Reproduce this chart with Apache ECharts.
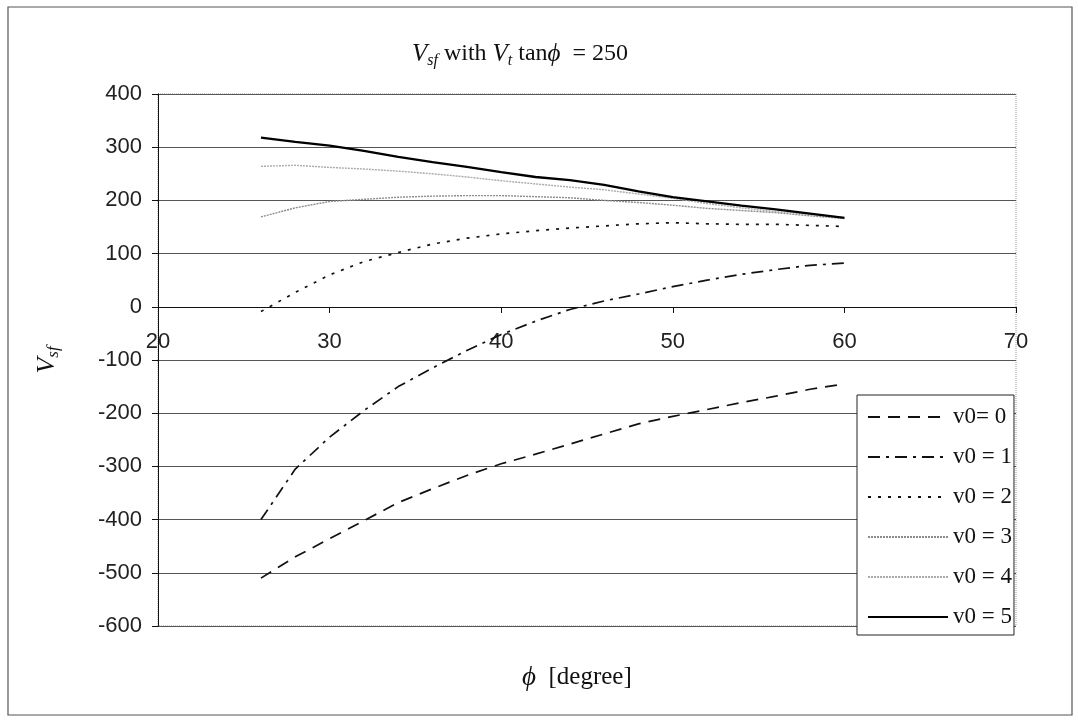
<!DOCTYPE html>
<html>
<head>
<meta charset="utf-8">
<script src="https://cdn.jsdelivr.net/npm/echarts@6/dist/echarts.min.js"></script>
<style>
  html, body { margin: 0; padding: 0; background: #fff; }
  #vsf { width: 1078px; height: 722px; }
</style>
</head>
<body>
<div id="vsf"></div>
<script>
// phi [degree]
var phi = [26, 28, 30, 32, 34, 36, 38, 40, 42, 44, 46, 48, 50, 52, 54, 56, 58, 60];

// Vsf for each v0
var v0_0 = [-510, -470, -436, -402, -368, -342, -317, -295, -277, -258, -239, -220, -206, -193, -180, -168, -155, -145];
var v0_1 = [-400, -305, -245, -195, -150, -115, -82, -52, -27, -5, 11, 24, 38, 50, 61, 70, 78, 82];
var v0_2 = [-9, 27, 60, 85, 102, 118, 129, 137, 143, 148, 152, 156, 158, 156, 155, 155, 153, 151];
var v0_3 = [169, 186, 198, 202, 206, 208, 209, 209, 207, 205, 200, 196, 191, 185, 181, 177, 171, 166];
var v0_4 = [264, 266, 262, 259, 255, 250, 244, 237, 231, 225, 220, 212, 204, 194, 186, 179, 174, 168];
var v0_5 = [318, 310, 303, 293, 282, 272, 263, 253, 244, 238, 229, 217, 206, 198, 190, 183, 175, 167];

var names = ['v0= 0', 'v0 = 1', 'v0 = 2', 'v0 = 3', 'v0 = 4', 'v0 = 5'];
var yTicks = [-600, -500, -400, -300, -200, -100, 0, 100, 200, 300, 400];
var xTicks = [20, 30, 40, 50, 60, 70];

var serif = '"Liberation Serif", "Times New Roman", serif';
var sans = '"Liberation Sans", Arial, sans-serif';

function pairs(ys) {
  return phi.map(function (x, i) { return [x, ys[i]]; });
}

// line look of each curve
var looks = [
  { color: '#111', width: 1.7, type: [12, 8] },
  { color: '#111', width: 1.7, type: [12, 6, 3, 6] },
  { color: '#111', width: 1.7, type: [3, 7] },
  { color: '#8c8c8c', width: 1.4, type: [2, 1] },
  { color: '#ababab', width: 1.4, type: [2, 1] },
  { color: '#000', width: 2.3, type: 'solid' }
];

function makeSeries(ys, i) {
  return {
    name: names[i],
    type: 'line',
    data: pairs(ys),
    symbol: 'none',
    showSymbol: false,
    lineStyle: { color: looks[i].color, width: looks[i].width, type: looks[i].type },
    itemStyle: { color: looks[i].color },
    z: 3
  };
}

var chart = echarts.init(document.getElementById('vsf'));

// grid box: plot spans 94..626 in y, zero line sits 60% of the way down
var gridTop = 94, gridBottom = 96;
var plotH = 722 - gridTop - gridBottom;
var zeroOffset = -Math.round(plotH * 0.6);

var option = {
  animation: false,
  backgroundColor: '#fff',
  title: {
    text: '{v|V}{s|sf}{r| with }{v|V}{s|t}{r| tan}{v|ϕ}{r|  = 250}',
    left: 515,
    top: 34,
    textAlign: 'center',
    textStyle: {
      fontWeight: 'normal',
      rich: {
        v: { fontFamily: serif, fontSize: 25, fontStyle: 'italic', fontWeight: 'normal', color: '#111', lineHeight: 30 },
        s: { fontFamily: serif, fontSize: 16, fontStyle: 'italic', fontWeight: 'normal', color: '#111', lineHeight: 12, verticalAlign: 'bottom' },
        r: { fontFamily: serif, fontSize: 24, fontWeight: 'normal', color: '#111', lineHeight: 30 }
      }
    }
  },
  grid: {
    left: 158,
    right: 62,
    top: gridTop,
    bottom: gridBottom,
    show: true,
    borderColor: '#9a9a9a',
    borderWidth: 1,
    borderType: 'dotted'
  },
  legend: {
    orient: 'vertical',
    left: 857,
    top: 395,
    width: 159,
    itemWidth: 80,
    itemHeight: 14,
    itemGap: 14,
    padding: [9, 2, 5, 10],
    backgroundColor: '#fff',
    borderColor: '#222',
    borderWidth: 1,
    itemStyle: { opacity: 0 },
    data: names,
    textStyle: { fontFamily: serif, fontSize: 23, color: '#111', lineHeight: 26 }
  },
  xAxis: {
    type: 'value',
    min: 20,
    max: 70,
    interval: 10,
    offset: zeroOffset,
    axisLine: { onZero: false, lineStyle: { color: '#111', width: 1 } },
    axisTick: { show: true, length: 6, lineStyle: { color: '#111' } },
    axisLabel: {
      fontFamily: sans,
      fontSize: 22,
      color: '#222',
      margin: 24,
      formatter: function (v) { return xTicks.indexOf(v) >= 0 ? String(v) : ''; }
    },
    splitLine: { show: false }
  },
  yAxis: {
    type: 'value',
    min: -600,
    max: 400,
    interval: 100,
    name: '{v|V}{s|sf}',
    nameLocation: 'middle',
    nameRotate: 90,
    nameGap: 96,
    nameTextStyle: {
      rich: {
        v: { fontFamily: serif, fontSize: 26, fontStyle: 'italic', color: '#111', lineHeight: 30 },
        s: { fontFamily: serif, fontSize: 17, fontStyle: 'italic', color: '#111', lineHeight: 12, verticalAlign: 'bottom' }
      }
    },
    axisLine: { show: true, lineStyle: { color: '#111', width: 1 } },
    axisTick: { show: true, length: 6, lineStyle: { color: '#111' } },
    axisLabel: {
      fontFamily: sans,
      fontSize: 22,
      color: '#222',
      margin: 16,
      formatter: function (v) { return yTicks.indexOf(v) >= 0 ? String(v) : ''; }
    },
    splitLine: { show: true, lineStyle: { color: '#555', width: 1 } }
  },
  graphic: [
    {
      // outer chart frame
      type: 'rect',
      shape: { x: 8, y: 7, width: 1064, height: 708 },
      style: { fill: 'none', stroke: '#555', lineWidth: 1.2 },
      silent: true
    },
    {
      // x axis title
      type: 'text',
      left: 522,
      top: 664,
      style: {
        text: '{p|ϕ}{r|  [degree]}',
        rich: {
          p: { fontFamily: serif, fontSize: 27, fontStyle: 'italic', fill: '#111' },
          r: { fontFamily: serif, fontSize: 25, fill: '#111' }
        }
      }
    }
  ],
  series: [
    makeSeries(v0_0, 0),
    makeSeries(v0_1, 1),
    makeSeries(v0_2, 2),
    makeSeries(v0_3, 3),
    makeSeries(v0_4, 4),
    makeSeries(v0_5, 5)
  ]
};

chart.setOption(option);
</script>
</body>
</html>
